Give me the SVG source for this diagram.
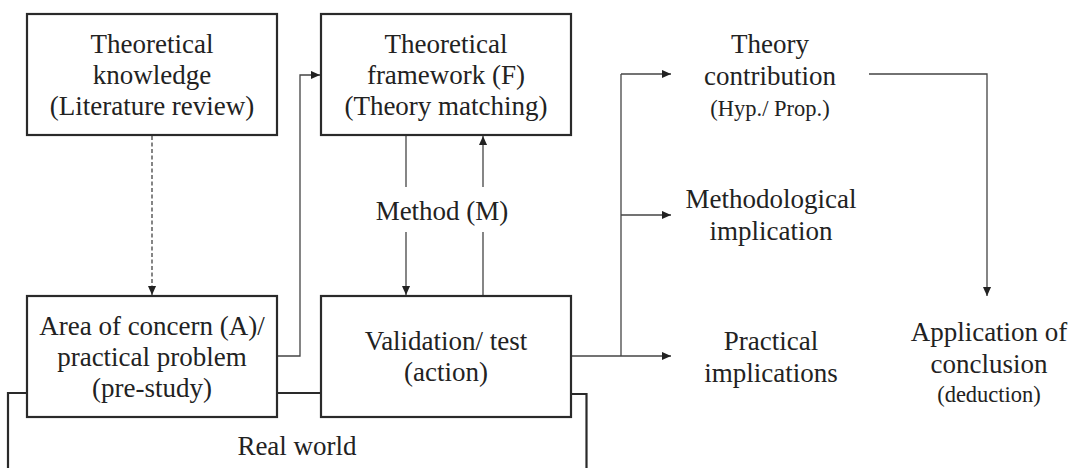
<svg xmlns="http://www.w3.org/2000/svg" width="1073" height="468" viewBox="0 0 1073 468">
<defs>
<style>
.box{fill:#fff;stroke:#2a2a2a;stroke-width:2.2}
.t{font-family:"Liberation Serif","Times New Roman",serif;font-size:27px;fill:#222;text-anchor:middle}
.s{font-size:22.5px}
.c{fill:none;stroke:#444;stroke-width:1.3}
.b{fill:none;stroke:#2a2a2a;stroke-width:2.2}
</style>
<marker id="ah" viewBox="0 0 10 10" refX="10" refY="5" markerWidth="9" markerHeight="9" markerUnits="userSpaceOnUse" orient="auto">
<path d="M0,0.5 L10,5 L0,9.5 Z" fill="#222"/>
</marker>
</defs>
<rect width="1073" height="468" fill="#fff"/>
<g id="connectors">
<path class="c" d="M152,136 V295" stroke-dasharray="4,2.5" marker-end="url(#ah)"/>
<path class="c" d="M277,356 H300 V75 H320" marker-end="url(#ah)"/>
<path class="c" d="M406,136 V187"/>
<path class="c" d="M406,232 V295" marker-end="url(#ah)"/>
<path class="c" d="M483,296 V232"/>
<path class="c" d="M483,187 V136" marker-end="url(#ah)"/>
<path class="c" d="M571,356 H621"/>
<path class="c" d="M621,74 V356"/>
<path class="c" d="M621,74 H671" marker-end="url(#ah)"/>
<path class="c" d="M621,215 H671" marker-end="url(#ah)"/>
<path class="c" d="M621,356 H671" marker-end="url(#ah)"/>
<path class="c" d="M869,74 H987 V296" marker-end="url(#ah)"/>
<path class="b" d="M27,393 H8 V468"/>
<path class="b" d="M277,393 H321"/>
<path class="b" d="M571,394 H586.5 V468"/>
</g>
<g id="theoretical-knowledge">
<rect class="box" x="27" y="14" width="250" height="121"/>
<text class="t" x="152" y="53">Theoretical</text>
<text class="t" x="152" y="84">knowledge</text>
<text class="t" x="152" y="115">(Literature review)</text>
</g>
<g id="theoretical-framework">
<rect class="box" x="321" y="14" width="250" height="121"/>
<text class="t" x="446" y="53">Theoretical</text>
<text class="t" x="446" y="84">framework (F)</text>
<text class="t" x="446" y="115">(Theory matching)</text>
</g>
<g id="area-of-concern">
<rect class="box" x="27" y="296" width="250" height="121"/>
<text class="t" x="152" y="335">Area of concern (A)/</text>
<text class="t" x="152" y="366">practical problem</text>
<text class="t" x="152" y="397">(pre-study)</text>
</g>
<g id="validation">
<rect class="box" x="321" y="296" width="250" height="121"/>
<text class="t" x="446" y="350">Validation/ test</text>
<text class="t" x="446" y="381">(action)</text>
</g>
<g id="method">
<text class="t" x="442" y="220">Method (M)</text>
</g>
<g id="theory-contribution">
<text class="t" x="770" y="53">Theory</text>
<text class="t" x="770" y="85">contribution</text>
<text class="t s" x="770" y="116">(Hyp./ Prop.)</text>
</g>
<g id="methodological-implication">
<text class="t" x="771" y="208">Methodological</text>
<text class="t" x="771" y="240">implication</text>
</g>
<g id="practical-implications">
<text class="t" x="771" y="350">Practical</text>
<text class="t" x="771" y="382">implications</text>
</g>
<g id="application">
<text class="t" x="989" y="341">Application of</text>
<text class="t" x="989" y="373">conclusion</text>
<text class="t s" x="989" y="402">(deduction)</text>
</g>
<g id="real-world">
<text class="t" x="297" y="455">Real world</text>
</g>
</svg>
